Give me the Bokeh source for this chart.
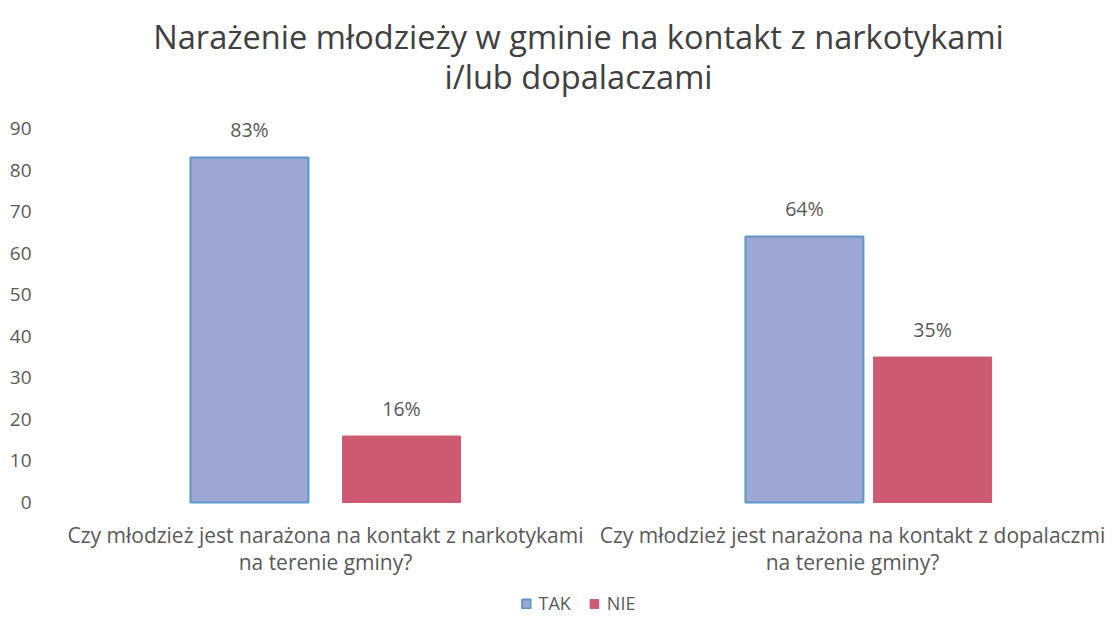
from bokeh.plotting import figure
from bokeh.models import ColumnDataSource, Range1d, FixedTicker, Legend, LegendItem, LabelSet, Label
from bokeh.core.properties import value
from bokeh.embed import file_html
from bokeh.resources import INLINE

title_lines = ["Narażenie młodzieży w gminie na kontakt z narkotykami", "i/lub dopalaczami"]
categories = ["Czy młodzież jest narażona na kontakt z narkotykami\nna terenie gminy?",
              "Czy młodzież jest narażona na kontakt z dopalaczmi\nna terenie gminy?"]
series = ["TAK", "NIE"]
tak = [83, 64]
nie = [16, 35]
y_ticks = [0, 10, 20, 30, 40, 50, 60, 70, 80, 90]

FONT = "Open Sans"
GREY = "#595959"
idx = list(range(len(categories)))
offs = [0.14, 0.118]
bw = 0.2173
X0, X1 = -0.5064, 1.4383
Y0, Y1 = -27.19, 120.80

p = figure(width=1106, height=615, output_backend="svg", toolbar_location=None,
           x_range=Range1d(X0, X1), y_range=Range1d(Y0, Y1),
           min_border_left=50, min_border_right=0, min_border_bottom=0, min_border_top=0)
p.title = None
p.outline_line_color = None
p.xgrid.visible = False
p.ygrid.visible = False
p.xaxis.visible = False

src_tak = ColumnDataSource(dict(x=[i - o for i, o in zip(idx, offs)], top=tak,
                                lab=[f"{v}%" for v in tak]))
src_nie = ColumnDataSource(dict(x=[i + o for i, o in zip(idx, offs)], top=nie,
                                lab=[f"{v}%" for v in nie]))

r1 = p.vbar(x="x", top="top", width=bw, source=src_tak, fill_color="#9ea6d4",
            line_color="#5b97c9", line_width=2)
r2 = p.vbar(x="x", top="top", width=bw, source=src_nie, fill_color="#cc5a71",
            line_color="#cc5a71", line_width=1)

for src in (src_tak, src_nie):
    p.add_layout(LabelSet(x="x", y="top", text="lab", source=src, text_align="center",
                          text_baseline="middle", y_offset=28, text_font=value(FONT),
                          text_font_size="19.5px", text_color=GREY))

# y axis
p.yaxis.ticker = FixedTicker(ticks=y_ticks)
p.yaxis.axis_line_color = None
p.yaxis.major_tick_line_color = None
p.yaxis.minor_tick_line_color = None
p.yaxis.major_label_text_font = FONT
p.yaxis.major_label_text_font_size = "19px"
p.yaxis.major_label_text_color = GREY
p.yaxis.major_label_standoff = 13

# category labels (two lines each)
line1 = [c.split("\n")[0] for c in categories]
line2 = [c.split("\n")[1] for c in categories]
cat_src = ColumnDataSource(dict(x=idx, l1=line1, l2=line2, dx=[0, -16],
                                y1=[-7.7] * len(idx), y2=[-14.4] * len(idx)))
for col, ycol in (("l1", "y1"), ("l2", "y2")):
    p.add_layout(LabelSet(x="x", y=ycol, text=col, source=cat_src, x_offset="dx",
                          text_align="center", text_baseline="middle", text_font=value(FONT),
                          text_font_size="21px", text_color=GREY))

# title
xm = (X0 + X1) / 2
for txt, yy in zip(title_lines, [112.1, 102.5]):
    p.add_layout(Label(x=xm, y=yy, text=txt, text_align="center", text_baseline="middle",
                       text_font=FONT, text_font_size="32.6px", text_color="#404040"))

legend = Legend(items=[LegendItem(label=series[0], renderers=[r1]),
                       LegendItem(label=series[1], renderers=[r2])],
                orientation="horizontal", location="bottom", border_line_color=None,
                background_fill_alpha=0,
                label_text_font=FONT, label_text_font_size="18px", label_text_color=GREY,
                glyph_width=11, glyph_height=11, spacing=18, margin=0, padding=0,
                label_standoff=7)
p.add_layout(legend, "center")

open("out.html", "w").write(file_html(p, INLINE))
